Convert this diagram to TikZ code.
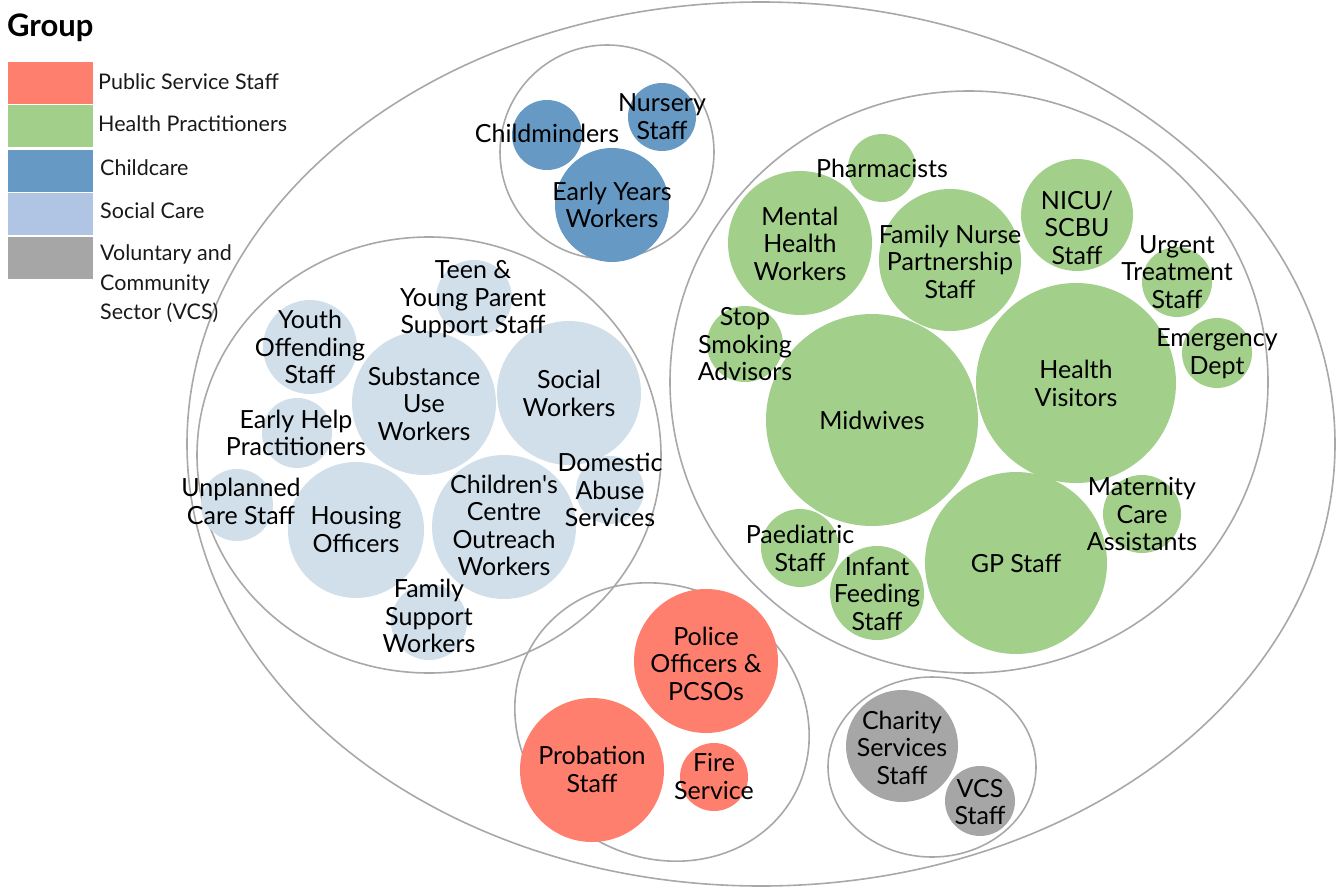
\documentclass[tikz,border=0pt]{standalone}
\usepackage{fontspec}
\setmainfont{Lato}[Ligatures=TeXOff]
\usetikzlibrary{shapes.geometric}
\pgfdeclarelayer{bg}
\pgfsetlayers{bg,main}
\definecolor{cred}{HTML}{FF7F6E}
\definecolor{cgreen}{HTML}{A2D08B}
\definecolor{cblue}{HTML}{6699C4}
\definecolor{csocleg}{HTML}{B0C4E4}
\definecolor{csoc}{HTML}{D0DFEA}
\definecolor{cgray}{HTML}{A6A6A6}
\definecolor{cline}{HTML}{A8A8A8}
\tikzset{
  grp/.style={draw=cline, line width=1.6pt},
  bub/.style={circle, inner sep=0pt, draw=none},
  lbl/.style={align=center, inner sep=0pt, font=\fontsize{25}{27.5}\selectfont, text=black},
  sw/.style={draw=white, line width=1pt, minimum width=86pt, minimum height=43pt, inner sep=0pt, anchor=north west},
  leg/.style={anchor=west, align=left, inner sep=0pt, font=\fontsize{21.5}{29.5}\selectfont, text=black!90}
}
% \bb{name}{x}{y}{r}{colour}{lx}{ly}{text}
\newcommand{\bb}[8]{%
  \begin{pgfonlayer}{bg}
  \node[bub, fill=#5, minimum size=2*#4] (#1) at (#2,#3) {};
  \end{pgfonlayer}
  \node[lbl] (#1-t) at (#6,#7) {#8};
}
\begin{document}
\begin{tikzpicture}[x=1pt,y=-1pt]
\useasboundingbox (0,0) rectangle (1338,888);
\begin{pgfonlayer}{bg}
% outer group
\node[grp, ellipse, minimum width=1148, minimum height=884, inner sep=0pt] (outer) at (761,444) {};
% sub groups
\node[grp, circle, minimum width=214, inner sep=0pt] (gchild) at (607,152) {};
\node[grp, ellipse, minimum width=464, minimum height=436, inner sep=0pt] (gsoc) at (429,455) {};
\node[grp, ellipse, minimum width=598, minimum height=582, inner sep=0pt] (ghealth) at (969,382) {};
\node[grp, ellipse, minimum width=302, minimum height=270, inner sep=0pt, rotate=-30] (gpub) at (662,722) {};
\node[grp, ellipse, minimum width=208, minimum height=180, inner sep=0pt] (gvcs) at (932,767) {};
\end{pgfonlayer}
% childcare
\bb{childm}{547}{135}{35}{cblue}{547}{133}{Childminders}
\bb{nursery}{662}{117}{34}{cblue}{662}{116.5}{Nursery\\Staff}
\bb{early}{612}{205}{57}{cblue}{612}{205}{Early Years\\Workers}
% social care
\bb{teen}{474}{298}{38}{csoc}{473}{299.5}{Teen \&\\Young Parent\\Support Staff}
\bb{youth}{310}{347}{47}{csoc}{310}{347}{Youth\\Offending\\Staff}
\bb{subst}{424}{403}{72}{csoc}{424}{403.5}{Substance\\Use\\Workers}
\bb{social}{569}{393}{72}{csoc}{569}{393.5}{Social\\Workers}
\bb{ehelp}{297}{433}{35}{csoc}{296}{433}{Early Help\\Practitioners}
\bb{unpl}{237}{505}{36}{csoc}{241}{501.5}{Unplanned\\Care Staff}
\bb{housing}{356}{530}{68}{csoc}{356}{529.5}{Housing\\Officers}
\bb{ccow}{504}{527}{72}{csoc}{504}{525.5}{Children's\\Centre\\Outreach\\Workers}
\bb{domestic}{610}{490}{34}{csoc}{610}{490}{Domestic\\Abuse\\Services}
\bb{family}{429}{622}{38}{csoc}{429}{616}{Family\\Support\\Workers}
% health
\bb{pharm}{882}{168}{34}{cgreen}{882}{168}{Pharmacists}
\bb{mental}{800}{243}{72}{cgreen}{800}{243.5}{Mental\\Health\\Workers}
\bb{fnp}{950}{260}{71}{cgreen}{950}{261.5}{Family Nurse\\Partnership\\Staff}
\bb{nicu}{1077}{215}{56}{cgreen}{1077}{227.5}{NICU/\\SCBU\\Staff}
\bb{urgent}{1177}{282}{35}{cgreen}{1177}{272}{Urgent\\Treatment\\Staff}
\bb{stop}{745}{344}{38}{cgreen}{745}{344.5}{Stop\\Smoking\\Advisors}
\bb{midw}{872}{420}{106}{cgreen}{872}{420}{Midwives}
\bb{hv}{1076}{383}{100}{cgreen}{1076}{383.5}{Health\\Visitors}
\bb{emerg}{1217}{353}{35}{cgreen}{1217}{353.5}{Emergency\\Dept}
\bb{mca}{1142}{514}{39}{cgreen}{1142}{514}{Maternity\\Care\\Assistants}
\bb{paed}{800}{548}{39}{cgreen}{800}{548.5}{Paediatric\\Staff}
\bb{infant}{877}{593}{47}{cgreen}{877}{594}{Infant\\Feeding\\Staff}
\bb{gp}{1016}{563}{91}{cgreen}{1016}{563}{GP Staff}
% public service
\bb{police}{706}{661}{72}{cred}{706}{663.5}{Police\\Officers \&\\PCSOs}
\bb{probation}{592}{770}{72}{cred}{592}{769.5}{Probation\\Staff}
\bb{fire}{714}{777}{34}{cred}{714}{776.5}{Fire\\Service}
% vcs
\bb{charity}{902}{746}{56}{cgray}{902}{747.5}{Charity\\Services\\Staff}
\bb{vcs}{980}{801}{35}{cgray}{980}{802}{VCS\\Staff}
% legend
\node[anchor=west, inner sep=0pt, font=\fontsize{31}{32}\selectfont\bfseries] (gtitle) at (7,28) {Group};
\node[sw, fill=cred] (s1) at (7,61) {};
\node[sw, fill=cgreen] (s2) at (7,104) {};
\node[sw, fill=cblue] (s3) at (7,149) {};
\node[sw, fill=csocleg] (s4) at (7,192) {};
\node[sw, fill=cgray] (s5) at (7,236) {};
\node[leg] (l1) at (98,82) {Public Service Staff};
\node[leg] (l2) at (98,124) {Health Practitioners};
\node[leg] (l3) at (100,168) {Childcare};
\node[leg] (l4) at (100,211) {Social Care};
\node[leg] (l5) at (100,284) {Voluntary and\\Community\\Sector (VCS)};
\end{tikzpicture}
\end{document}
